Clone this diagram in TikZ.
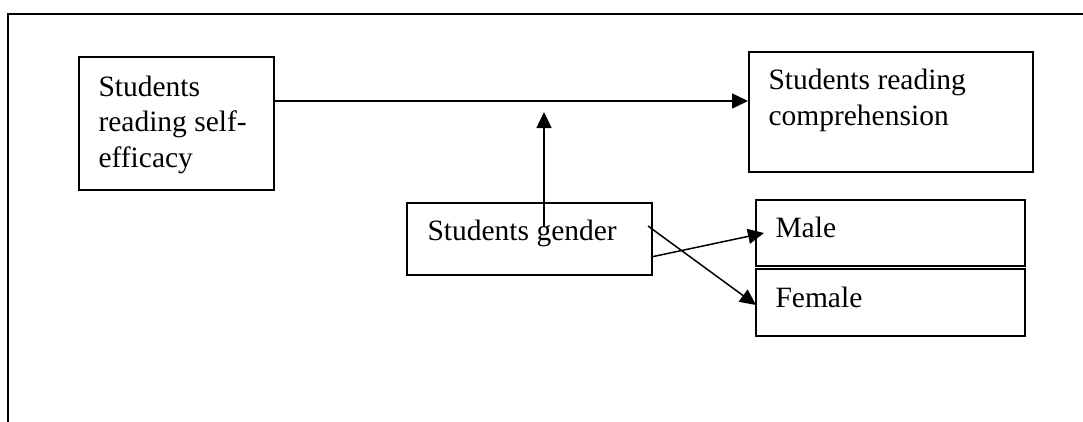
\documentclass[tikz,border=0pt]{standalone}
\usepackage{fontspec}
\setmainfont{Liberation Serif}
\usetikzlibrary{arrows.meta}
\begin{document}
\begin{tikzpicture}[x=0.4pt,y=-0.4pt,
  box/.style={draw,line width=0.8pt,rectangle,inner sep=0pt,anchor=north west},
  txt/.style={anchor=base west,inner sep=0pt,font=\fontsize{11.8pt}{14pt}\selectfont},
  arr/.style={line width=0.6pt,-{Triangle[length=6.4pt,width=6pt]}}]
\useasboundingbox (0,0) rectangle (1083,421);
% outer frame (cropped at right and bottom)
\draw[line width=0.8pt] (8,430) -- (8,14) -- (1090,14);
% boxes
\node[box,minimum width=195*0.4pt,minimum height=133*0.4pt] (b1) at (78,56) {};
\node[box,minimum width=284*0.4pt,minimum height=120*0.4pt] (b2) at (748,51) {};
\node[box,minimum width=245*0.4pt,minimum height=72*0.4pt] (g) at (406,202) {};
\node[box,minimum width=269*0.4pt,minimum height=66*0.4pt] (m) at (755,199) {};
\node[box,minimum width=269*0.4pt,minimum height=67*0.4pt] (f) at (755,268) {};
% texts
\node[txt] (b1a) at (98,96) {Students};
\node[txt] (b1b) at (98,131.5) {reading self-};
\node[txt] (b1c) at (98,167) {efficacy};
\node[txt] (b2a) at (768,89) {Students reading};
\node[txt] (b2b) at (768,125) {comprehension};
\node[txt] (gt) at (427,240) {Students gender};
\node[txt] (mt) at (775,237) {Male};
\node[txt] (ft) at (775,307) {Female};
% connector end points
\coordinate (p1) at (273,101);
\coordinate (p2) at (748,101);
\coordinate (v1) at (544,227);
\coordinate (v2) at (544,112);
\coordinate (m1) at (651,257);
\coordinate (m2) at (764,233);
\coordinate (f1) at (648,226);
\coordinate (f2) at (756,305);
% connectors
\draw[arr] (p1) -- (p2);
\draw[arr] (v1) -- (v2);
\draw[arr] (m1) -- (m2);
\draw[arr] (f1) -- (f2);
\end{tikzpicture}
\end{document}
